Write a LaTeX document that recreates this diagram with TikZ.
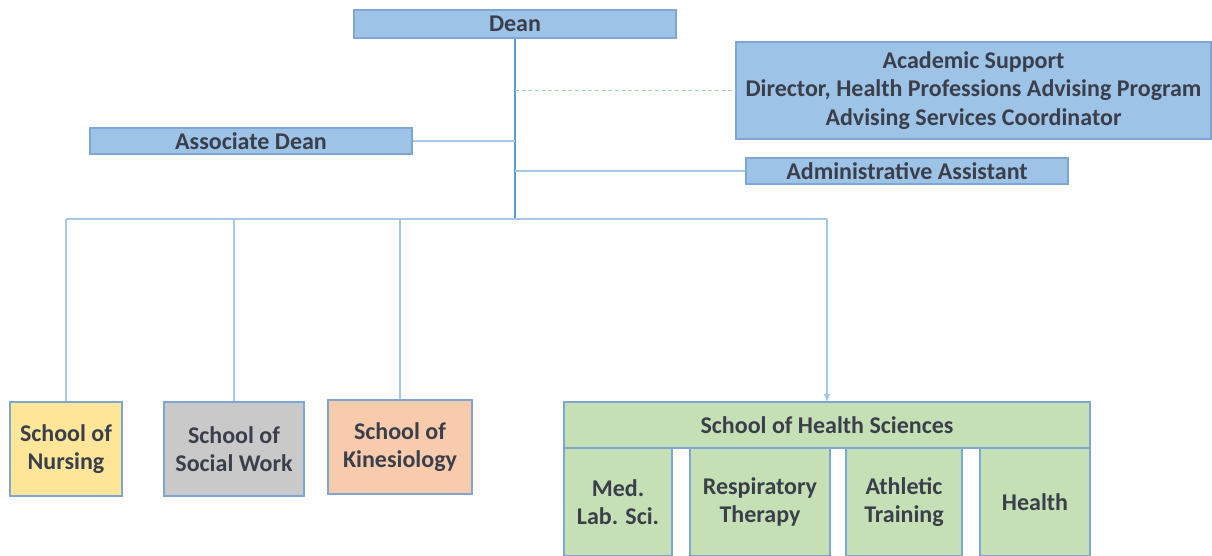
\documentclass[tikz,border=0pt]{standalone}
\usepackage{fontspec}
\setmainfont{Carlito}
\usetikzlibrary{arrows.meta}
\definecolor{boxblue}{HTML}{9DC3E6}
\definecolor{edgeblue}{HTML}{7FA6D3}
\definecolor{linkblue}{HTML}{A7C6E8}
\definecolor{trunkblue}{HTML}{5B9BD5}
\definecolor{nursyellow}{HTML}{FFE699}
\definecolor{socgray}{HTML}{C9C9C9}
\definecolor{kinpeach}{HTML}{F8CBAD}
\definecolor{hsgreen}{HTML}{C5E0B4}
\definecolor{txtgray}{HTML}{3A3F4B}
\tikzset{
  unit/.style={draw=edgeblue, line width=0.9pt, inner sep=0pt, align=center,
    text=txtgray, font=\bfseries\fontsize{18}{21.5}\selectfont},
  office/.style={unit, fill=boxblue},
  link/.style={draw=linkblue, line width=0.9pt},
}
\begin{document}
\begin{tikzpicture}[x=0.75pt, y=-0.75pt]
    \useasboundingbox (0,0) rectangle (1212,556);
    % Offices
    \node[office, minimum width=241.5pt, minimum height=21pt] (dean) at (515,24) {Dean};
    \node[office, minimum width=356.25pt, minimum height=72.75pt] (support) at (973.5,90.5)
    {Academic Support\\Director, Health Professions Advising Program\\Advising Services Coordinator};
    \node[office, minimum width=241.5pt, minimum height=19.5pt] (assoc) at (251,141) {Associate Dean};
    \node[office, minimum width=241.5pt, minimum height=19.5pt] (admin) at (907,171) {Administrative Assistant};
    % Schools
    \node[unit, fill=nursyellow, minimum width=84pt, minimum height=70.5pt] (nursing) at (66,449) {School of\\Nursing};
    \node[unit, fill=socgray, minimum width=105pt, minimum height=70.5pt] (social) at (234,449) {School of\\Social Work};
    \node[unit, fill=kinpeach, minimum width=108pt, minimum height=70.5pt] (kines) at (400,447) {School of\\Kinesiology};
    \node[unit, fill=hsgreen, minimum width=394.5pt, minimum height=34.5pt] (hs) at (827,425) {School of Health Sciences};
    % Programs
    \node[unit, fill=hsgreen, minimum width=81pt, minimum height=81pt] (medlab) at (618,502) {Med.\\Lab. Sci.};
    \node[unit, fill=hsgreen, minimum width=105pt, minimum height=81pt] (resp) at (760,502) {Respiratory\\Therapy};
    \node[unit, fill=hsgreen, minimum width=87pt, minimum height=81pt] (athletic) at (904,502) {Athletic\\Training};
    \node[unit, fill=hsgreen, minimum width=82.5pt, minimum height=81pt] (health) at (1035,502) {Health};
    % Lines
    \coordinate (hub) at (515,219);
    \draw[trunkblue, line width=1.2pt] (dean.south) -- (hub);
    \draw[link, dashed, dash pattern=on 3pt off 2pt] (dean.south |- support.west) -- (support.west);
    \draw[link] (assoc.east) -- (assoc.east -| dean.south);
    \draw[link] (admin.west) -- (admin.west -| dean.south);
    \draw[link] (nursing.north |- hub) -- (hs.north |- hub);
    \foreach \s in {nursing,social,kines}
      \draw[link] (\s.north |- hub) -- (\s.north);
    \draw[link, -{Latex[length=6pt,width=5pt]}, shorten >=-0.5pt] (hs.north |- hub) -- (hs.north);
  \end{tikzpicture}
\end{document}
